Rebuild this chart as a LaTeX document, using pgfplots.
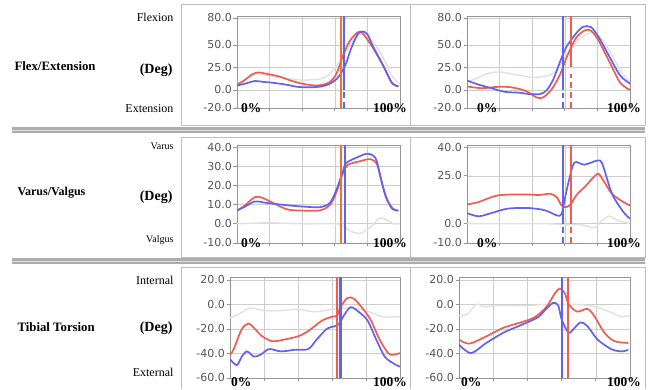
\documentclass[border=0pt]{standalone}
\usepackage{fontspec}
\setmainfont{Liberation Serif}
\newfontfamily\tickfont{DejaVu Sans}
\usepackage{pgfplots}
\pgfplotsset{compat=1.18}
\definecolor{cred}{RGB}{240,92,82}
\definecolor{cblue}{RGB}{98,98,235}
\definecolor{corange}{RGB}{242,112,52}
\definecolor{cnorm}{RGB}{225,225,225}
\definecolor{cgrid}{RGB}{205,205,205}
\definecolor{caxis}{RGB}{150,150,150}
\definecolor{ctick}{RGB}{85,85,85}
\definecolor{cframe}{RGB}{190,190,190}
\pgfplotsset{
  panel/.style={
    scale only axis, anchor=south west, xmin=0, xmax=100,
    axis line style={caxis, line width=0.7pt},
    xtick={20,40,60,80}, xticklabels={},
    grid=major, grid style={cgrid, line width=0.6pt},
    tick style={caxis, line width=0.7pt},
    major tick length=3.5pt, tick align=outside, tick pos=left,
    yticklabel style={font=\tickfont\fontsize{11}{12}\selectfont, text=ctick, inner sep=1.5pt},
    every axis plot/.append style={line width=1.7pt, smooth, tension=0.5},
  },
  norm/.style={cnorm, line width=1.4pt},
  vline/.style={line width=2.1pt, sharp plot},
  vdash/.style={dash pattern=on 6pt off 4pt},
}
\newcommand\fs[1]{\fontsize{#1}{#1}\selectfont}
\begin{document}
\begin{tikzpicture}
\path[fill=white] (0pt,0pt) rectangle (657pt,389pt);
% frames
\draw[cframe, line width=1pt] (181pt,263pt) rectangle (410pt,384pt);
\draw[cframe, line width=1pt] (410pt,263pt) rectangle (645pt,384pt);
\draw[cframe, line width=1pt] (181pt,131pt) rectangle (410pt,251pt);
\draw[cframe, line width=1pt] (410pt,131pt) rectangle (645pt,251pt);
\draw[cframe, line width=1pt] (181pt,0pt) -- (181pt,121pt) -- (645pt,121pt) -- (645pt,0pt);
\draw[cframe, line width=1pt] (410pt,0pt) -- (410pt,121pt);
% separators
\fill[gray!65] (12pt,255.5pt) rectangle (645pt,261.5pt);
\draw[gray!25, line width=1.6pt] (12pt,258.5pt) -- (645pt,258.5pt);
\fill[gray!65] (12pt,124.5pt) rectangle (645pt,130.5pt);
\draw[gray!25, line width=1.6pt] (12pt,127.5pt) -- (645pt,127.5pt);
% row labels
\node[anchor=west, font=\bfseries\fs{12.8}] at (11pt,323pt) {Flex/Extension};
\node[anchor=east, font=\fs{12}] at (177pt,372pt) {Flexion};
\node[anchor=east, font=\bfseries\fs{14}] at (176pt,319pt) {(Deg)};
\node[anchor=east, font=\fs{12}] at (177pt,280pt) {Extension};
\node[anchor=west, font=\bfseries\fs{12}] at (14pt,196pt) {Varus/Valgus};
\node[anchor=east, font=\fs{10}] at (177pt,243pt) {Varus};
\node[anchor=east, font=\bfseries\fs{14}] at (176pt,192pt) {(Deg)};
\node[anchor=east, font=\fs{10}] at (177pt,149pt) {Valgus};
\node[anchor=west, font=\bfseries\fs{12.8}] at (14pt,62pt) {Tibial Torsion};
\node[anchor=east, font=\fs{12}] at (177pt,109pt) {Internal};
\node[anchor=east, font=\bfseries\fs{14}] at (176pt,61pt) {(Deg)};
\node[anchor=east, font=\fs{12}] at (177pt,17pt) {External};

% ---------- A ----------
\begin{axis}[panel, at={(237pt,281pt)}, width=163pt, height=91.8pt, ymin=-20, ymax=82,
  ytick={-20,0,25,50,80}, yticklabels={-20.0,0.0,25.0,50.0,80.0}]
\addplot[norm] coordinates {(0,7)(5,12)(12,18)(20,16)(30,13)(40,11)(50,12)(55,15)(60,24)(65,38)(70,52)(76,62)(80,60)(85,50)(90,35)(95,16)(100,6)};
\addplot[cred] coordinates {(0,6)(4,10)(9,17)(13,19.5)(18,18)(26,15)(32,11)(40,7)(48,5)(53,6)(57,9)(61,18)(65,38)(69,54)(74,64)(77,63)(83,48)(90,26)(95,8)(99,4)};
\addplot[cblue] coordinates {(0,5)(5,7)(11,10)(16,9)(22,8)(30,6)(37,3.5)(45,3)(52,4)(57,7)(61,12)(64,19)(67,30)(70,46)(74,62)(77,65)(80,62)(83,50)(90,26)(95,8)(99,4)};
\addplot[corange, vline] coordinates {(63.8,-20)(63.8,82)};
\addplot[cblue, vline] coordinates {(65.6,0)(65.6,82)};
\addplot[cblue, vline, vdash] coordinates {(65.6,-20)(65.6,-2)};
\end{axis}
\node[anchor=west, font=\bfseries\fs{13.5}, inner sep=0pt] at (241pt,281pt) {0\%};
\node[anchor=west, font=\bfseries\fs{13.5}, inner sep=0pt] at (373pt,281pt) {100\%};

% ---------- B ----------
\begin{axis}[panel, at={(467pt,281pt)}, width=163pt, height=91.8pt, ymin=-20, ymax=82,
  ytick={-20,0,25,50,80}, yticklabels={-20.0,0.0,25.0,50.0,80.0}]
\addplot[norm] coordinates {(0,10)(5,12)(12,18)(20,20)(30,17)(40,14)(50,16)(55,22)(60,35)(65,48)(70,58)(77,64)(82,58)(88,42)(94,22)(100,8)};
\addplot[cred] coordinates {(0,4)(9,2)(19,3.5)(27,3)(36,-1)(43,-8.5)(47,-8)(52,1)(57,17)(62,40)(67,58)(72,66)(76,66)(81,54)(88,29)(94,8)(100,0)};
\addplot[cblue] coordinates {(0,10.5)(7,6)(15,2)(23,-2)(32,-3)(38,-4.5)(45,-4.5)(49,0)(53,12)(57,31)(61,48)(67,63)(71,70)(76,70)(81,58)(88,35)(94,16)(100,7)};
\addplot[cblue, vline] coordinates {(59,0)(59,82)};
\addplot[cblue, vline, vdash] coordinates {(59,-20)(59,-3)};
\addplot[cred, vline] coordinates {(64,25)(64,82)};
\addplot[cred, vline, vdash] coordinates {(64,-20)(64,18)};
\end{axis}
\node[anchor=west, font=\bfseries\fs{13.5}, inner sep=0pt] at (477pt,281pt) {0\%};
\node[anchor=west, font=\bfseries\fs{13.5}, inner sep=0pt] at (607pt,281pt) {100\%};

% ---------- C ----------
\begin{axis}[panel, at={(237pt,146pt)}, width=163pt, height=97.9pt, ymin=-10, ymax=41,
  ytick={-10,0,10,20,30,40}, yticklabels={-10.0,0.0,10.0,20.0,30.0,40.0}]
\addplot[norm] coordinates {(0,0)(20,0.5)(40,0)(60,0)(65,-1)(70,-4)(75,-5)(80,-3)(85,1)(88,3)(92,2)(96,0)(100,0)};
\addplot[cred] coordinates {(0,6.9)(4,9)(11,13.9)(16,13.4)(24,10)(32,7.3)(45,6.8)(51,7)(56,9)(59,12.5)(62,18.7)(65,26.5)(68,30.7)(75,32.5)(82,33.7)(86,30.7)(89,21)(92,12.5)(96,7.7)(99,6.9)};
\addplot[cblue] coordinates {(0,6.9)(5,9)(11,11.6)(18,10.9)(28,9.9)(40,9)(51,8.7)(57,10.9)(61,17.7)(65,27.2)(67,31.7)(74,34.7)(80,36.5)(85,34.2)(88,24.6)(91,15)(95,8)(99,6.9)};
\addplot[corange, vline] coordinates {(64,-10)(64,41)};
\addplot[cblue, vline] coordinates {(66,-10)(66,41)};
\end{axis}
\node[anchor=west, font=\bfseries\fs{13.5}, inner sep=0pt] at (241pt,146pt) {0\%};
\node[anchor=west, font=\bfseries\fs{13.5}, inner sep=0pt] at (373pt,146pt) {100\%};

% ---------- D ----------
\begin{axis}[panel, at={(467pt,146pt)}, width=163pt, height=97.9pt, ymin=-10, ymax=41,
  ytick={-10,0,25,40}, yticklabels={-10.0,0.0,25.0,40.0}]
\addplot[norm] coordinates {(0,0)(30,0)(50,0)(60,-0.5)(70,-0.5)(78,-2)(82,1)(87,4)(92,2)(100,0)};
\addplot[cred] coordinates {(0,10.1)(7,11.3)(19,14.8)(36,15.3)(44,15)(51,15.6)(55,13.9)(58,9.6)(61,8.7)(64,10.6)(67,14.8)(73,19.9)(80,26)(83,23.4)(89,15.6)(96,11.3)(100,9.6)};
\addplot[cblue] coordinates {(0,5.6)(7,3.9)(15,5.6)(25,7.9)(38,8.2)(48,7)(55,4.4)(58,5)(60,13)(63,24.2)(66,32)(72,30.8)(80,32.9)(83,31.2)(89,15.6)(96,6.1)(100,2.7)};
\addplot[cblue, vline] coordinates {(59,0)(59,41)};
\addplot[cblue, vline, vdash] coordinates {(59,-10)(59,-1.5)};
\addplot[cred, vline] coordinates {(64,0)(64,41)};
\addplot[cred, vline, vdash] coordinates {(64,-10)(64,-1.5)};
\end{axis}
\node[anchor=west, font=\bfseries\fs{13.5}, inner sep=0pt] at (477pt,146pt) {0\%};
\node[anchor=west, font=\bfseries\fs{13.5}, inner sep=0pt] at (607pt,146pt) {100\%};

% ---------- E ----------
\begin{axis}[panel, at={(230pt,11pt)}, width=170pt, height=100.5pt, ymin=-60, ymax=22,
  ytick={-60,-40,-20,0,20}, yticklabels={-60.0,-40.0,-20.0,0.0,20.0}]
\addplot[norm] coordinates {(0,-11)(5,-8)(12,-3)(20,-5)(30,-5)(40,-4)(50,-6)(60,-4)(70,-3)(80,-5)(90,-10)(100,-10)};
\addplot[cred] coordinates {(0,-41)(2,-37)(7,-20)(11,-15.6)(14,-19)(19,-26)(25,-30)(32,-28.6)(40,-26)(46,-21.7)(54,-13.3)(60,-10)(63,-9)(65,-2.2)(69,5.2)(73,4.6)(79,-5)(83,-13.3)(88,-28.6)(93,-39.7)(96,-41)(100,-39.7)};
\addplot[cblue] coordinates {(0,-44.7)(4,-49.5)(7,-42.5)(10,-38.3)(14,-42.5)(18,-41)(23,-36.4)(30,-38.3)(38,-37)(46,-36.4)(51,-28.6)(57,-19.8)(61,-18)(64,-16)(67,-9)(71,-2.2)(76,-6.4)(81,-13.3)(86,-28.6)(91,-42.5)(96,-48)(100,-50.8)};
\addplot[cred, vline] coordinates {(63,-60)(63,22)};
\addplot[cblue, vline] coordinates {(65,-60)(65,22)};
\end{axis}
\node[anchor=west, font=\bfseries\fs{13.5}, inner sep=0pt] at (231pt,7pt) {0\%};
\node[anchor=west, font=\bfseries\fs{13.5}, inner sep=0pt] at (373pt,7pt) {100\%};

% ---------- F ----------
\begin{axis}[panel, at={(459pt,11pt)}, width=171pt, height=100.5pt, ymin=-60, ymax=22,
  ytick={-60,-40,-20,0,20}, yticklabels={-60.0,-40.0,-20.0,0.0,20.0}]
\addplot[norm] coordinates {(0,-9)(5,-8)(10,0)(15,-2)(20,-1)(30,-1)(40,-1)(50,0)(60,0)(70,0)(80,-2)(88,-6)(95,-10)(100,-9)};
\addplot[cred] coordinates {(0,-28.6)(6,-32)(16,-26)(26,-19)(36,-14.7)(44,-10.6)(51,-2.2)(56,8.9)(59,13)(62,8.9)(64,0.5)(69,-5.8)(75,-3.6)(79,-9.2)(85,-23)(91,-30)(99,-31.4)};
\addplot[cblue] coordinates {(0,-32.8)(7,-39.7)(16,-31.4)(26,-23)(36,-17)(46,-10.6)(51,-3.6)(55,1.3)(58,-0.8)(60,-12)(64,-23)(67,-20)(71,-14.7)(75,-17.5)(81,-28.6)(89,-36.4)(95,-38.3)(99,-37)};
\addplot[cblue, vline] coordinates {(60,-60)(60,22)};
\addplot[cred, vline] coordinates {(64,-60)(64,22)};
\end{axis}
\node[anchor=west, font=\bfseries\fs{13.5}, inner sep=0pt] at (461pt,7pt) {0\%};
\node[anchor=west, font=\bfseries\fs{13.5}, inner sep=0pt] at (607pt,7pt) {100\%};
\end{tikzpicture}
\end{document}
